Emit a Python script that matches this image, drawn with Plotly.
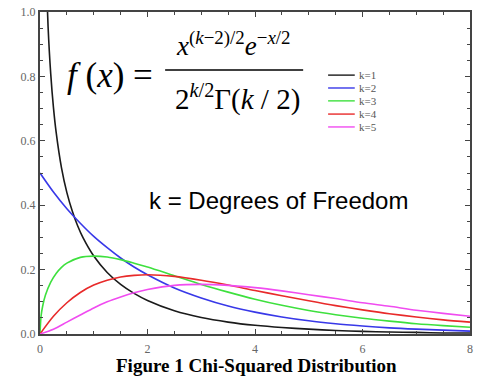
import plotly.graph_objects as go

# ---- data ----
x_k1 = [0.03, 0.05, 0.1, 0.15, 0.2, 0.25, 0.3, 0.4, 0.5, 0.6, 0.7, 0.8, 1.0, 1.25, 1.5, 1.75, 2.0,
        2.5, 3.0, 3.5, 4.0, 4.5, 5.0, 5.5, 6.0, 6.5, 7.0, 7.5, 8.0]
y_k1 = [2.269, 1.740, 1.200, 0.956, 0.807, 0.704, 0.627, 0.516, 0.439, 0.382, 0.336, 0.299, 0.242,
        0.191, 0.154, 0.126, 0.104, 0.072, 0.051, 0.037, 0.027, 0.020, 0.015, 0.011, 0.008, 0.006,
        0.005, 0.003, 0.003]

x_k2 = [0.0, 0.25, 0.5, 0.75, 1.0, 1.25, 1.5, 1.75, 2.0, 2.5, 3.0, 3.5, 4.0, 4.5, 5.0, 5.5, 6.0,
        6.5, 7.0, 7.5, 8.0]
y_k2 = [0.500, 0.441, 0.389, 0.344, 0.303, 0.268, 0.236, 0.208, 0.184, 0.143, 0.112, 0.087, 0.068,
        0.053, 0.041, 0.032, 0.025, 0.019, 0.015, 0.012, 0.009]

x_k3 = [0.0, 0.02, 0.05, 0.1, 0.2, 0.3, 0.4, 0.5, 0.75, 1.0, 1.25, 1.5, 1.75, 2.0, 2.5, 3.0, 3.5,
        4.0, 4.5, 5.0, 5.5, 6.0, 6.5, 7.0, 7.5, 8.0]
y_k3 = [0.0, 0.056, 0.087, 0.120, 0.161, 0.188, 0.207, 0.220, 0.238, 0.242, 0.239, 0.231, 0.220,
        0.208, 0.181, 0.154, 0.130, 0.108, 0.089, 0.073, 0.060, 0.049, 0.040, 0.032, 0.026, 0.021]

x_k4 = [0.0, 0.25, 0.5, 0.75, 1.0, 1.25, 1.5, 1.75, 2.0, 2.5, 3.0, 3.5, 4.0, 4.5, 5.0, 5.5, 6.0,
        6.5, 7.0, 7.5, 8.0]
y_k4 = [0.0, 0.055, 0.097, 0.129, 0.152, 0.167, 0.177, 0.182, 0.184, 0.179, 0.167, 0.152, 0.135,
        0.119, 0.103, 0.088, 0.075, 0.063, 0.053, 0.044, 0.037]

x_k5 = [0.0, 0.25, 0.5, 0.75, 1.0, 1.25, 1.5, 1.75, 2.0, 2.5, 3.0, 3.5, 4.0, 4.5, 5.0, 5.5, 6.0,
        6.5, 7.0, 7.5, 8.0]
y_k5 = [0.0, 0.015, 0.037, 0.059, 0.081, 0.100, 0.115, 0.128, 0.138, 0.151, 0.154, 0.151, 0.144,
        0.134, 0.122, 0.110, 0.097, 0.086, 0.074, 0.064, 0.055]

series_names = ["k=1", "k=2", "k=3", "k=4", "k=5"]
series_x = [x_k1, x_k2, x_k3, x_k4, x_k5]
series_y = [y_k1, y_k2, y_k3, y_k4, y_k5]
colors = ["#1a1a1a", "#3838e8", "#3ee03e", "#e82a2a", "#f04cf0"]

x_ticks = [0, 2, 4, 6, 8]
y_ticks = [0.0, 0.2, 0.4, 0.6, 0.8, 1.0]
y_tick_labels = ["0.0", "0.2", "0.4", "0.6", "0.8", "1.0"]

fig = go.Figure()
for name, xs, ys, c in zip(series_names, series_x, series_y, colors):
    fig.add_trace(go.Scatter(x=xs, y=ys, mode="lines", name=name,
                             line=dict(color=c, width=1.6, shape="spline", smoothing=0.8),
                             showlegend=False, hoverinfo="skip"))

serif = "Liberation Serif, Times New Roman, serif"
axis_common = dict(showgrid=False, zeroline=False, showline=True, linecolor="#444",
                   linewidth=2, ticks="inside", mirror="allticks", tickcolor="#444",
                   ticklen=5, tickwidth=1.2,
                   tickfont=dict(family=serif, size=12, color="#666"))

fig.update_xaxes(range=[0, 8], tickvals=x_ticks, ticktext=[str(v) for v in x_ticks],
                 minor=dict(dtick=0.5, ticks="inside", ticklen=3, tickcolor="#444"),
                 ticklabelstandoff=3, **axis_common)
fig.update_yaxes(range=[0, 1.0], tickvals=y_ticks, ticktext=y_tick_labels,
                 minor=dict(dtick=0.05, ticks="inside", ticklen=3, tickcolor="#444"),
                 **axis_common)

def ann(x, y, text, font, xanchor="center"):
    return dict(xref="paper", yref="paper", x=x, y=y, xanchor=xanchor, yanchor="middle",
                showarrow=False, text=text, font=font)

annotations = []
shapes = []
# formula
annotations.append(ann(0.162, 0.804, "<i>f</i> (<i>x</i>) =",
                       dict(family=serif, size=35, color="black")))
annotations.append(ann(0.450, 0.900,
                       "<i>x</i><sup>(<i>k</i>−2)/2</sup><i>e</i><sup>−<i>x</i>/2</sup>",
                       dict(family=serif, size=27, color="black")))
annotations.append(ann(0.459, 0.735, "2<sup><i>k</i>/2</sup>Γ(<i>k</i> / 2)",
                       dict(family=serif, size=29, color="black")))
shapes.append(dict(type="line", xref="paper", yref="paper", x0=0.291, x1=0.612, y0=0.82, y1=0.82,
                   line=dict(color="black", width=1.5)))

# manual legend
leg_y = [0.804, 0.764, 0.724, 0.683, 0.643]
for name, c, yy in zip(series_names, colors, leg_y):
    shapes.append(dict(type="line", xref="paper", yref="paper", x0=0.670, x1=0.732, y0=yy, y1=yy,
                       line=dict(color=c, width=1.4)))
    annotations.append(ann(0.737, yy, name, dict(family=serif, size=11, color="#555"),
                           xanchor="left"))

annotations.append(ann(0.554, 0.416, "k = Degrees of Freedom",
                       dict(family="Liberation Sans, Arial, sans-serif", size=24, color="black")))
annotations.append(ann(0.503, -0.097, "<b>Figure 1 Chi-Squared Distribution</b>",
                       dict(family=serif, size=19, color="black")))

fig.update_layout(width=477, height=379, margin=dict(l=40, r=4, t=12, b=45),
                  paper_bgcolor="white", plot_bgcolor="white",
                  annotations=annotations, shapes=shapes, showlegend=False)

fig.write_html("out.html", config={"displayModeBar": False},
               post_script="document.body.style.margin='0';")
